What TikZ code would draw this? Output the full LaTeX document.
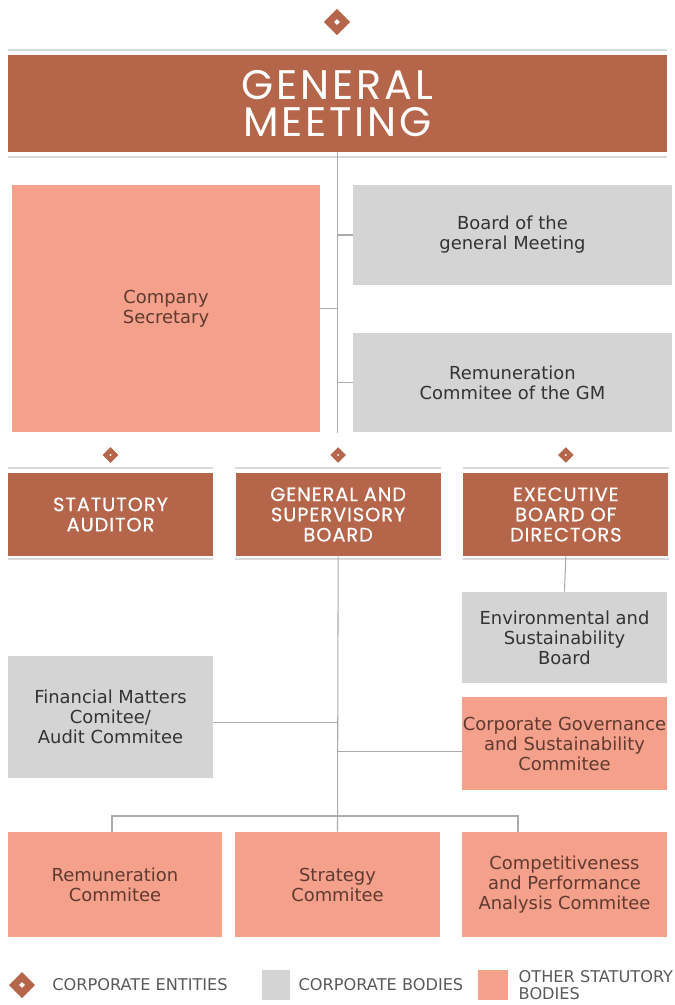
\documentclass[tikz,border=0pt]{standalone}
\usepackage{fontspec}
\setmainfont{DejaVu Sans}
\newfontfamily\headfont{Poppins}[LetterSpace=7]
\newfontfamily\subheadfont{Poppins}[LetterSpace=5, FakeBold=0.6]
\usetikzlibrary{shapes.geometric, positioning, calc}
\definecolor{entity}{HTML}{B5654A}
\definecolor{statutory}{HTML}{F4A08A}
\definecolor{bodygray}{HTML}{D4D4D4}
\definecolor{linkgray}{HTML}{ABABAB}
\definecolor{bandgray}{HTML}{D9D9E0}
\definecolor{salmontext}{HTML}{5E3A30}

\begin{document}
\begin{tikzpicture}[x=0.02cm, y=-0.02cm, every node/.style={align=center, inner sep=0pt},
  entitybox/.style={rectangle, fill=entity, text=white, font=\subheadfont\fontsize{11}{11.5}\selectfont, minimum width=4.1cm, minimum height=1.66cm},
  corpbox/.style={rectangle, fill=bodygray, text=black!80, font=\fontsize{10.2}{11.4}\selectfont},
  otherbox/.style={rectangle, fill=statutory, text=salmontext, font=\fontsize{10.2}{11.4}\selectfont},
  bigmark/.style={diamond, draw=entity, fill=white, line width=4pt, minimum size=0.38cm},
  smallmark/.style={diamond, draw=entity, fill=white, line width=2.6pt, minimum size=0.22cm},
  link/.style={draw=linkgray, line width=0.6pt},
  band/.style={draw=bandgray, line width=1.2pt},
  legend/.style={anchor=west, text=black!65, font=\fontsize{9.2}{9.4}\selectfont, align=left}]
\useasboundingbox (0,0) rectangle (675,1005);

\node (topmark) [bigmark] at (337,22) {};
\node (gm) [rectangle, fill=entity, text=white, font=\headfont\fontsize{23.5}{21.5}\selectfont, minimum width=13.18cm, minimum height=1.94cm] at (337.5,103.5) {GENERAL\\MEETING};
\draw[band] ([yshift=2.6pt]gm.north west) -- ([yshift=2.6pt]gm.north east);
\draw[band] ([yshift=-2.6pt]gm.south west) -- ([yshift=-2.6pt]gm.south east);

\node (compsec) [otherbox, minimum width=6.16cm, minimum height=4.94cm] at (166,308.5) {Company\\Secretary};
\node (boardgm) [corpbox, minimum width=6.38cm, minimum height=2cm] at (512.5,235) {Board of the\\general Meeting};
\node (remgm) [corpbox, minimum width=6.38cm, minimum height=1.98cm] at (512.5,382.5) {Remuneration\\Commitee of the GM};
\coordinate (gmend) at (337.5,433);

\node (auditor) [entitybox] at (110.5,514.5) {STATUTORY\\AUDITOR};
\node (gsb) [entitybox, right=0.44cm of auditor] {GENERAL AND\\SUPERVISORY\\BOARD};
\node (ebd) [entitybox, right=0.44cm of gsb] {EXECUTIVE\\BOARD OF\\DIRECTORS};
\foreach \n in {auditor, gsb, ebd} {
  \node (\n mark) [smallmark] at (\n.north |- 0,455) {};
  \draw[band] ([yshift=2.6pt]\n.north west) -- ([yshift=2.6pt]\n.north east);
  \draw[band] ([yshift=-1.6pt]\n.south west) -- ([yshift=-1.6pt]\n.south east);
}

\node (envboard) [corpbox, minimum width=4.1cm, minimum height=1.82cm] at (564.5,637.5) {Environmental and\\Sustainability\\Board};
\node (cgsc) [otherbox, minimum width=4.1cm, minimum height=1.86cm] at (564.5,743.5) {Corporate Governance\\and Sustainability\\Commitee};
\node (finmat) [corpbox, minimum width=4.1cm, minimum height=2.44cm] at (110.5,717) {Financial Matters\\Comitee/\\Audit Commitee};

\node (remcom) [otherbox, minimum width=4.28cm, minimum height=2.1cm] at (115,884.5) {Remuneration\\Commitee};
\node (stratcom) [otherbox, minimum width=4.12cm, minimum height=2.1cm] at (337.5,884.5) {Strategy\\Commitee};
\node (compcom) [otherbox, minimum width=4.1cm, minimum height=2.1cm] at (564.5,884.5) {Competitiveness\\and Performance\\Analysis Commitee};
\coordinate (busL) at (112,816);
\coordinate (busR) at (518,816);

\draw[link] (gm.south) -- (gmend);
\draw[link] (boardgm.west) -- (boardgm.west -| gmend);
\draw[link] (compsec.east) -- (compsec.east -| gmend);
\draw[link] (remgm.west) -- (remgm.west -| gmend);
\draw[link] (gsb.south) -- (stratcom.north);
\draw[link] (ebd.south) -- (envboard.north);
\draw[link] ([yshift=-3pt]finmat.east) -- ([yshift=-3pt]finmat.east -| gsb.south);
\draw[link] ([yshift=-4.5pt]cgsc.west) -- ([yshift=-4.5pt]cgsc.west -| gsb.south);
\draw[link] (busL |- remcom.north) -- (busL) -- (busR) -- (busR |- compcom.north);

\node (legmark) [bigmark] at (22,985) {};
\node (legentity) [legend] at (52,985) {CORPORATE ENTITIES};
\node (leggray) [rectangle, fill=bodygray, minimum width=0.56cm, minimum height=0.6cm] at (276,985) {};
\node (legbodies) [legend, right=0.16cm of leggray] {CORPORATE BODIES};
\node (legsalmon) [rectangle, fill=statutory, minimum width=0.6cm, minimum height=0.6cm] at (493,985) {};
\node (legother) [legend, right=0.2cm of legsalmon] {OTHER STATUTORY\\BODIES};
\end{tikzpicture}
\end{document}
